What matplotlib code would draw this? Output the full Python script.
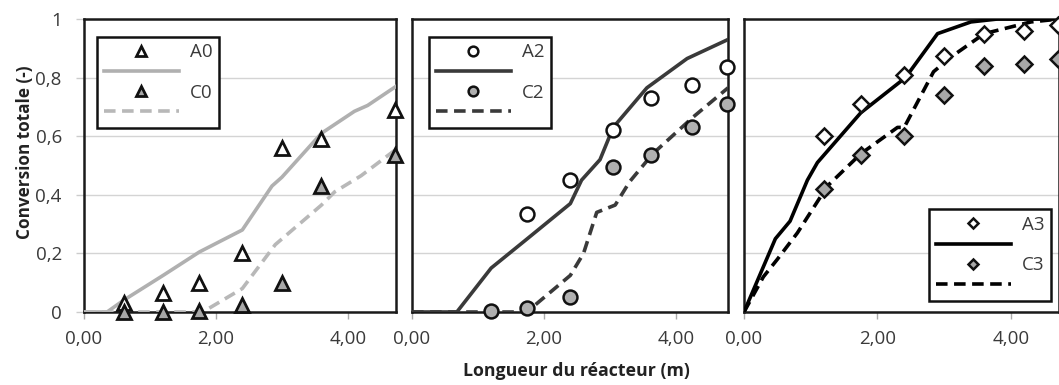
import matplotlib
matplotlib.use("Agg")
import matplotlib.pyplot as plt
from matplotlib.ticker import FuncFormatter

# ---- data ----
# Panel 1
A0_pts_x = [0.6, 1.2, 1.75, 2.4, 3.0, 3.6, 4.72]
A0_pts_y = [0.03, 0.065, 0.10, 0.20, 0.56, 0.59, 0.69]
C0_pts_x = [0.6, 1.2, 1.75, 2.4, 3.0, 3.6, 4.72]
C0_pts_y = [0.0, 0.0, 0.005, 0.025, 0.10, 0.43, 0.535]
A0_line_x = [0.0, 0.35, 0.6, 1.2, 1.75, 2.4, 2.85, 3.0, 3.6, 4.1, 4.3, 4.73]
A0_line_y = [0.0, 0.0, 0.04, 0.125, 0.205, 0.28, 0.43, 0.46, 0.61, 0.685, 0.705, 0.77]
C0_line_x = [0.0, 1.8, 2.4, 2.9, 3.6, 3.8, 4.2, 4.73]
C0_line_y = [0.0, 0.0, 0.08, 0.23, 0.365, 0.41, 0.465, 0.555]

# Panel 2
A2_pts_x = [1.75, 2.4, 3.05, 3.62, 4.25, 4.77]
A2_pts_y = [0.335, 0.45, 0.62, 0.73, 0.775, 0.835]
C2_pts_x = [1.2, 1.75, 2.4, 3.05, 3.62, 4.25, 4.77]
C2_pts_y = [0.003, 0.013, 0.05, 0.495, 0.535, 0.63, 0.71]
A2_line_x = [0.0, 0.68, 1.2, 1.72, 2.4, 2.57, 2.85, 3.05, 3.56, 4.17, 4.79]
A2_line_y = [0.0, 0.0, 0.15, 0.245, 0.37, 0.45, 0.52, 0.63, 0.765, 0.865, 0.93]
C2_line_x = [0.0, 1.74, 2.4, 2.6, 2.8, 3.08, 3.3, 3.65, 4.26, 4.79]
C2_line_y = [0.0, 0.0, 0.125, 0.2, 0.34, 0.365, 0.445, 0.54, 0.665, 0.765]

# Panel 3
A3_pts_x = [1.2, 1.75, 2.4, 3.0, 3.6, 4.2, 4.7]
A3_pts_y = [0.60, 0.71, 0.81, 0.875, 0.95, 0.96, 0.98]
C3_pts_x = [1.2, 1.75, 2.4, 3.0, 3.6, 4.2, 4.7]
C3_pts_y = [0.42, 0.535, 0.60, 0.74, 0.84, 0.845, 0.865]
A3_line_x = [0.0, 0.47, 0.69, 0.95, 1.1, 1.75, 2.42, 2.9, 3.4, 3.8, 4.73]
A3_line_y = [0.0, 0.25, 0.31, 0.45, 0.51, 0.68, 0.80, 0.95, 0.99, 1.0, 1.0]
C3_line_x = [0.0, 0.29, 0.5, 0.8, 1.25, 1.75, 2.3, 2.4, 2.84, 3.1, 3.6, 4.3, 4.73]
C3_line_y = [0.0, 0.12, 0.18, 0.27, 0.43, 0.54, 0.63, 0.63, 0.82, 0.87, 0.95, 0.99, 1.0]

x_ticks = [0, 2, 4]
y_ticks = [0, 0.2, 0.4, 0.6, 0.8, 1.0]

FONT = "Open Sans"
plt.rcParams['font.family'] = [FONT, 'DejaVu Sans']

W, H = 1059, 385
fig = plt.figure(figsize=(W / 100, H / 100), dpi=100)

def px_axes(l, r, t, b):
    return fig.add_axes([l / W, 1 - b / H, (r - l) / W, (b - t) / H])

ax1 = px_axes(84, 396, 19, 312)
ax2 = px_axes(412, 728, 19, 312)
ax3 = px_axes(744, 1059, 19, 312)

xmax = [4.73, 4.79, 4.72]

def xfmt(v, p):
    return f"{v:.2f}".replace(".", ",")

def yfmt(v, p):
    if abs(v) < 1e-9:
        return "0"
    if abs(v - 1) < 1e-9:
        return "1"
    return f"{v:.1f}".replace(".", ",")

DASH = (0, (3.2, 1.8))

for i, ax in enumerate([ax1, ax2, ax3]):
    ax.set_xlim(0, xmax[i])
    ax.set_ylim(0, 1)
    ax.set_xticks(x_ticks)
    ax.xaxis.set_major_formatter(FuncFormatter(xfmt))
    ax.set_yticks(y_ticks)
    ax.grid(axis='y', color='#d4d4d4', lw=1.0, zorder=0)
    for s in ax.spines.values():
        s.set_color('#1a1a1a')
        s.set_linewidth(1.8)
    ax.tick_params(axis='x', length=5, width=1, color='#aaaaaa', labelsize=13.5,
                   labelcolor='#3a3a3a', pad=8)
    if i == 0:
        ax.yaxis.set_major_formatter(FuncFormatter(yfmt))
        ax.tick_params(axis='y', length=6, width=1, color='#cccccc', labelsize=13.5,
                       labelcolor='#3a3a3a', pad=10)
    else:
        ax.tick_params(axis='y', length=0, labelleft=False)
    ax.set_facecolor('white')

# Panel 1
l_a0, = ax1.plot(A0_line_x, A0_line_y, color='#b0b0b0', lw=2.6, zorder=3)
l_c0, = ax1.plot(C0_line_x, C0_line_y, color='#b8b8b8', lw=2.6, ls=DASH, zorder=3)
m_a0, = ax1.plot(A0_pts_x, A0_pts_y, ls='none', marker='^', ms=10, mfc='white',
                 mec='#111111', mew=2, zorder=5, clip_on=False)
m_c0, = ax1.plot(C0_pts_x, C0_pts_y, ls='none', marker='^', ms=10, mfc='#a8a8a8',
                 mec='#111111', mew=2, zorder=5, clip_on=False)

# Panel 2
l_a2, = ax2.plot(A2_line_x, A2_line_y, color='#3a3a3a', lw=2.6, zorder=3)
l_c2, = ax2.plot(C2_line_x, C2_line_y, color='#3a3a3a', lw=2.6, ls=DASH, zorder=3)
m_a2, = ax2.plot(A2_pts_x, A2_pts_y, ls='none', marker='o', ms=10, mfc='white',
                 mec='#111111', mew=1.8, zorder=5, clip_on=False)
m_c2, = ax2.plot(C2_pts_x, C2_pts_y, ls='none', marker='o', ms=10, mfc='#b0b0b0',
                 mec='#111111', mew=1.8, zorder=5, clip_on=False)

# Panel 3
l_a3, = ax3.plot(A3_line_x, A3_line_y, color='#000000', lw=2.6, zorder=3)
l_c3, = ax3.plot(C3_line_x, C3_line_y, color='#000000', lw=2.6, ls=DASH, zorder=3)
m_a3, = ax3.plot(A3_pts_x, A3_pts_y, ls='none', marker='D', ms=8, mfc='white',
                 mec='#111111', mew=1.8, zorder=5, clip_on=False)
m_c3, = ax3.plot(C3_pts_x, C3_pts_y, ls='none', marker='D', ms=8, mfc='#a8a8a8',
                 mec='#111111', mew=1.8, zorder=5, clip_on=False)

def add_legend(ax, handles, labels, loc, anchor):
    leg = ax.legend(handles, labels, loc=loc, bbox_to_anchor=anchor,
                    borderaxespad=0, fancybox=False, framealpha=1,
                    edgecolor='#111111', fontsize=13.5, handlelength=4.0,
                    handletextpad=0.6, labelspacing=0.12, borderpad=0.35,
                    markerscale=0.7, numpoints=1)
    leg.get_frame().set_linewidth(1.8)
    for t in leg.get_texts():
        t.set_color('#3a3a3a')
    return leg

add_legend(ax1, [m_a0, l_a0, m_c0, l_c0], ["A0", "", "C0", ""], 'upper left', (0.042, 0.94))
add_legend(ax2, [m_a2, l_a2, m_c2, l_c2], ["A2", "", "C2", ""], 'upper left', (0.055, 0.94))
add_legend(ax3, [m_a3, l_a3, m_c3, l_c3], ["A3", "", "C3", ""], 'lower right', (0.975, 0.037))

fig.text(25 / W, 1 - 152 / H, "Conversion totale (-)", rotation=90, ha='center', va='center',
         fontsize=12.3, fontweight='bold', color='#222222')
fig.text(576 / W, 1 - 371 / H, "Longueur du réacteur (m)", ha='center', va='center',
         fontsize=12.8, fontweight='bold', color='#222222')

fig.savefig("out.png", dpi=100, facecolor='white')
